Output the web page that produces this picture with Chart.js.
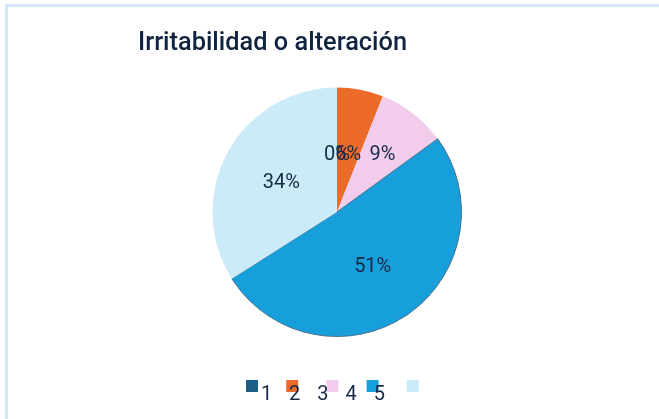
<!DOCTYPE html>
<html>
<head>
<meta charset="utf-8">
<script src="https://cdn.jsdelivr.net/npm/chart.js@4.4.1/dist/chart.umd.min.js"></script>
<style>
  html, body { margin: 0; padding: 0; background: #ffffff; overflow: hidden; }
  #wrap { position: relative; width: 659px; height: 419px; }
  #frame { position: absolute; left: 5px; top: 4px; width: 700px; height: 500px;
           border-left: 3px solid #d3e5f6; border-top: 3px solid #d3e5f6; box-sizing: border-box; }
  #c { position: absolute; left: 0; top: 0; }
</style>
</head>
<body>
<div id="wrap">
  <div id="frame"></div>
  <canvas id="c" width="659" height="419"></canvas>
</div>
<script>
const chartTitle = 'Irritabilidad o alteración';
const categories = ['1', '2', '3', '4', '5'];
const values = [0, 6, 9, 51, 34];
const sliceLabels = ['0%', '6%', '9%', '51%', '34%'];
const sliceColors = ['#1d5e87', '#ec6b2a', '#f2cdeb', '#179fdc', '#cbebf9'];

const textColor = '#162a45';

const titlePlugin = {
  id: 'customTitle',
  afterDraw(chart) {
    const ctx = chart.ctx;
    ctx.save();
    ctx.fillStyle = '#10243f';
    ctx.font = '500 25px Roboto';
    ctx.textBaseline = 'alphabetic';
    ctx.textAlign = 'left';
    const w = ctx.measureText(chartTitle).width;
    ctx.translate(138, 50);
    ctx.scale(269 / w, 1);
    ctx.fillText(chartTitle, 0, 0);
    ctx.restore();
  }
};

const sliceLabelPlugin = {
  id: 'sliceLabels',
  afterDatasetsDraw(chart) {
    const ctx = chart.ctx;
    const meta = chart.getDatasetMeta(0);
    ctx.save();
    ctx.fillStyle = textColor;
    ctx.font = '20px Roboto';
    ctx.textAlign = 'center';
    ctx.textBaseline = 'middle';
    meta.data.forEach((arc, i) => {
      const p = arc.getProps(['x', 'y', 'startAngle', 'endAngle', 'outerRadius'], true);
      const mid = (p.startAngle + p.endAngle) / 2;
      let x, y;
      if (values[i] <= 10) {
        // small slices: labels share one row, each placed along its slice's mid ray
        const dy = p.outerRadius * 0.47;
        const fromTop = mid + Math.PI / 2;
        x = p.x + dy * Math.tan(fromTop);
        y = p.y - dy;
      } else {
        const r = p.outerRadius * 0.51;
        x = p.x + Math.cos(mid) * r;
        y = p.y + Math.sin(mid) * r;
      }
      ctx.fillText(sliceLabels[i], x, y + 2);
    });
    ctx.restore();
  }
};

const legendPlugin = {
  id: 'quirkyLegend',
  afterDraw(chart) {
    const ctx = chart.ctx;
    ctx.save();
    const boxStart = 246, boxStep = 40.2, boxSize = 12, boxTop = 380;
    const labStart = 266.5, labStep = 28.2, labBase = 400;
    ctx.font = '20px Roboto';
    ctx.textAlign = 'center';
    ctx.textBaseline = 'alphabetic';
    categories.forEach((c, i) => {
      ctx.fillStyle = sliceColors[i];
      ctx.fillRect(boxStart + i * boxStep, boxTop, boxSize, boxSize);
    });
    categories.forEach((c, i) => {
      ctx.fillStyle = textColor;
      ctx.fillText(c, labStart + i * labStep, labBase);
    });
    ctx.restore();
  }
};

new Chart(document.getElementById('c'), {
  type: 'pie',
  data: {
    labels: categories,
    datasets: [{
      data: values,
      backgroundColor: sliceColors,
      borderWidth: [0, 0, 0, 1, 0],
      borderColor: ['#fff', '#fff', '#fff', '#4b7390', '#fff']
    }]
  },
  options: {
    responsive: false,
    animation: false,
    devicePixelRatio: 1,
    layout: { padding: { top: 87, bottom: 82, left: 212, right: 197 } },
    plugins: {
      legend: { display: false },
      title: { display: false },
      tooltip: { enabled: false }
    }
  },
  plugins: [sliceLabelPlugin, titlePlugin, legendPlugin]
});
</script>
</body>
</html>
